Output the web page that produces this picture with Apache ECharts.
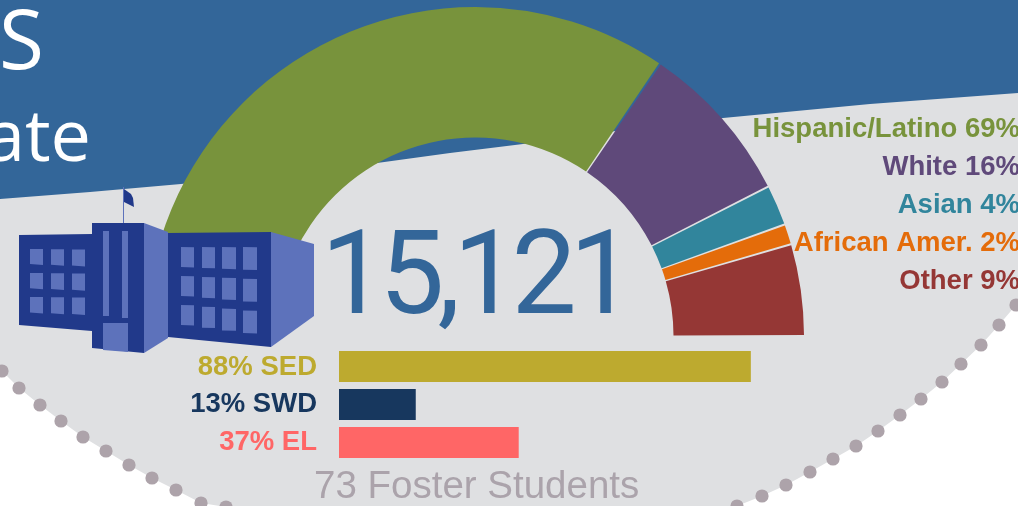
<!DOCTYPE html>
<html><head><meta charset="utf-8">
<style>html,body{margin:0;padding:0;background:#fff}#c{width:1018px;height:506px}</style>
<script src="https://cdn.jsdelivr.net/npm/echarts@6/dist/echarts.min.js"></script>
</head><body><div id="c"></div>
<script>
const groups = ['Hispanic/Latino','White','Asian','African Amer.','Other'];
const groupValues = [69,16,4,2,9];
const groupColors = ['#78933c','#5f497a','#31859c','#e46c0a','#953735'];
const barCategories = ['SED','SWD','EL'];
const barPercents = [88,13,37];
const barLengths = [88,16.4,38.4];
const barColors = ['#bdaa2f','#17375e','#ff6666'];
const totalText = '15,121';
const fosterText = '73 Foster Students';

const BLUE='#336699',GRAY='#dfe0e2',DOT='#ada3aa',DARK='#21398a',LIGHT='#5d72bb';
const topEdge=[[0,199],[90,192],[181,184],[280,174],[377,163],[450,153],[523,144],[623,130],[723,118],[870,104],[1018,93],[1018,303]];
const dotsR=[[1016,305],[999,325],[981,345],[961,364],[942,382],[921,399],[900,415],[878,431],[856,446],[833,459],[810,472],[786,485],[762,496],[737,506]];
const dotsL=[[226,507],[201,503],[176,490],[152,478],[129,465],[106,451],[83,437],[61,421],[40,405],[19,388],[2,371]];
const el=[];
const poly=(pts,fill,z)=>el.push({type:'polygon',shape:{points:pts},style:{fill},z:z,silent:true});
el.push({type:'rect',shape:{x:0,y:0,width:1018,height:210},style:{fill:BLUE},z:-5,silent:true});
poly(topEdge.concat(dotsR).concat(dotsL).concat([[0,369]]),GRAY,-4);
dotsR.concat(dotsL).forEach(p=>el.push({type:'circle',shape:{cx:p[0],cy:p[1],r:6.6},style:{fill:DOT},z:-3,silent:true}));
// building
poly([[19,235],[92,234],[92,331],[19,325]],DARK,10);
[[30,43],[51,64],[72,85]].forEach((c,i)=>[[249,265],[273,289],[297,313]].forEach((r,j)=>{
  const s=i*0.7+j*0.3;
  poly([[c[0],r[0]+i*0.3],[c[1],r[0]+i*0.3],[c[1],r[1]+s],[c[0],r[1]+s-1]],LIGHT,11);
}));
poly([[92,223],[144,223],[144,353],[92,348]],DARK,10);
poly([[144,223],[168,232],[168,338],[144,353]],LIGHT,10);
poly([[103,231],[109,231],[109,316],[103,316]],LIGHT,11);
poly([[122,231],[128,231],[128,318],[122,318]],LIGHT,11);
poly([[103,323],[128,323],[128,352],[103,350]],LIGHT,11);
poly([[168,233],[271,232],[271,347],[168,337]],DARK,10);
poly([[271,232],[314,244],[314,316],[271,347]],LIGHT,10);
[[181,194],[202,215],[222,236],[243,257]].forEach((c,i)=>[[247,267],[276,296],[305,325]].forEach((r,j)=>{
  const t=i*j*0.9, b=i*(j+1)*0.9;
  poly([[c[0],r[0]+t],[c[1],r[0]+t+0.3],[c[1],r[1]+b+0.4],[c[0],r[1]+b]],LIGHT,11);
}));
poly([[123,187],[124,187],[124,223],[123,223]],LIGHT,10);
poly([[124,189],[131,194],[133,198],[134,207],[128,204],[124,202]],DARK,10);
// texts
const txt=(t,x,y,o)=>el.push({type:'text',x:x,y:y,z:12,silent:true,style:Object.assign({text:t,textAlign:'left',textVerticalAlign:'middle'},o)});
const LAB='bold 27.5px "Liberation Sans"';
txt('S',-1,45.5,{font:'82px "Open Sans"',fill:'#fff'});
txt('ate',91,140,{font:'72px "Open Sans"',fill:'#fff',textAlign:'right'});
groups.forEach((g,i)=>txt(g+' '+groupValues[i]+'%',1020,129+i*38.2,{font:LAB,fill:groupColors[i],textAlign:'right'}));
barCategories.forEach((c,i)=>txt(barPercents[i]+'% '+c,317,367+i*37.7,{font:LAB,fill:barColors[i],textAlign:'right'}));
el.push({type:'text',x:321,y:284,zlevel:1,z:12,silent:true,style:{text:totalText,font:'116px Roboto',fill:BLUE,textAlign:'left',textVerticalAlign:'middle'}});
txt(fosterText,314,487,{font:'38.5px "Liberation Sans"',fill:'#aba3ab'});

const chart=echarts.init(document.getElementById('c'),null,{renderer:'canvas'});
// the big total has tight tracking: it gets its own layer with a negative letter spacing
const bigLayer=chart.getZr().painter.getLayer(1);
if(bigLayer&&bigLayer.ctx) bigLayer.ctx.letterSpacing='-7px';
chart.setOption({
  animation:false,
  graphic:{elements:el},
  grid:{left:339,top:347.5,width:468,height:114},
  xAxis:{type:'value',min:0,max:100,show:false},
  yAxis:{type:'category',inverse:true,data:barCategories,show:false},
  series:[
   {type:'pie',center:[475,336],radius:[198.5,329],startAngle:180,endAngle:0,padAngle:0.35,
    label:{show:false},labelLine:{show:false},silent:true,z:2,
    data:groups.map((g,i)=>({name:g,value:groupValues[i],itemStyle:{color:groupColors[i]}}))},
   {type:'bar',barWidth:31,silent:true,z:3,
    data:barLengths.map((v,i)=>({value:v,itemStyle:{color:barColors[i]}}))}
  ]
});
</script></body></html>
